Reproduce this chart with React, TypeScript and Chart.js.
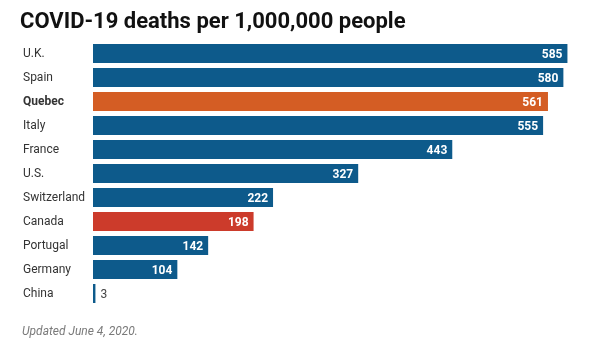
import React, { useEffect, useRef } from "react";
import { Chart, registerables } from "chart.js";

Chart.register(...registerables);

const TITLE = "COVID-19 deaths per 1,000,000 people";
const FOOTER = "Updated June 4, 2020.";
const categories = ["U.K.", "Spain", "Quebec", "Italy", "France", "U.S.", "Switzerland", "Canada", "Portugal", "Germany", "China"];
const deaths = [585, 580, 561, 555, 443, 327, 222, 198, 142, 104, 3];
const barColors = ["#0d5a8b", "#0d5a8b", "#d45d24", "#0d5a8b", "#0d5a8b", "#0d5a8b", "#0d5a8b", "#cc3b2b", "#0d5a8b", "#0d5a8b", "#0d5a8b"];
const boldCategories = ["Quebec"];

const FONT = "Roboto, 'Noto Sans', sans-serif";

const textPlugin = {
  id: "textPlugin",
  afterDraw(chart: any) {
    const ctx = chart.ctx;
    ctx.save();
    // title
    ctx.fillStyle = "#111111";
    ctx.font = `bold 22px ${FONT}`;
    ctx.textAlign = "left";
    ctx.textBaseline = "alphabetic";
    ctx.fillText(TITLE, 20, 28);
    // footer
    ctx.fillStyle = "#7a7a7a";
    ctx.font = `italic 12px ${FONT}`;
    ctx.fillText(FOOTER, 22, 335);
    // value labels
    const meta = chart.getDatasetMeta(0);
    meta.data.forEach((bar: any, i: number) => {
      const v = deaths[i];
      const w = bar.x - bar.base;
      ctx.textBaseline = "middle";
      if (w > 30) {
        ctx.fillStyle = "#ffffff";
        ctx.font = `bold 12px ${FONT}`;
        ctx.textAlign = "right";
        ctx.fillText(String(v), bar.x - 5, bar.y + 1);
      } else {
        ctx.fillStyle = "#444444";
        ctx.font = `12px ${FONT}`;
        ctx.textAlign = "left";
        ctx.fillText(String(v), bar.x + 5, bar.y + 1);
      }
    });
    ctx.restore();
  },
};

export default function App() {
  const ref = useRef<HTMLCanvasElement>(null);
  useEffect(() => {
    document.body.style.margin = "0";
    const chart = new Chart(ref.current!, {
      type: "bar",
      data: {
        labels: categories,
        datasets: [
          {
            data: deaths,
            backgroundColor: barColors,
            borderWidth: 0,
            categoryPercentage: 0.79,
            barPercentage: 1,
          },
        ],
      },
      options: {
        indexAxis: "y",
        animation: false,
        responsive: false,
        maintainAspectRatio: false,
        layout: { padding: { left: 23, right: 9.4, top: 41.5, bottom: 41.5 } },
        plugins: { legend: { display: false }, tooltip: { enabled: false } },
        scales: {
          x: { display: false, min: 0, max: 600 },
          y: {
            afterFit: (scale: any) => {
              scale.width = 70;
            },
            grid: { display: false },
            border: { display: false },
            ticks: {
              crossAlign: "far",
              color: "#333333",
              font: (ctx: any) => ({
                family: FONT,
                size: 12,
                weight: boldCategories.includes(categories[ctx.index]) ? "bold" : "normal",
              }),
            },
          },
        },
      },
      plugins: [textPlugin],
    });
    return () => chart.destroy();
  }, []);
  return (
    <div style={{ position: "absolute", left: 0, top: 0, width: 589, height: 347, background: "#fff" }}>
      <canvas ref={ref} width={589} height={347} style={{ width: 589, height: 347 }} />
    </div>
  );
}
